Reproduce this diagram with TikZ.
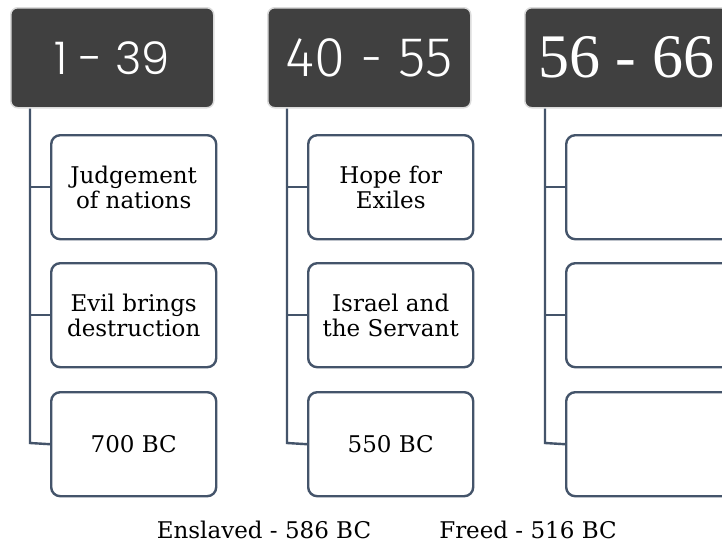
\documentclass[tikz,border=0pt]{standalone}
\usepackage{fontspec}
\setmainfont{DejaVu Serif}
\newfontfamily\hdA{Poppins Light}
\newfontfamily\hdB{Fira Sans Light}
\newfontfamily\hdC{Liberation Serif}
\definecolor{hdfill}{HTML}{404040}
\definecolor{hdline}{HTML}{DCDCDC}
\definecolor{lnc}{HTML}{44546A}
\begin{document}
\begin{tikzpicture}[x=1pt,y=-1pt,
  header/.style={draw=hdline, line width=1.5pt, fill=hdfill, rounded corners=7pt,
    minimum width=203pt, minimum height=100pt, text=white, inner sep=0pt, anchor=north west},
  item/.style={draw=lnc, line width=2.4pt, fill=white, rounded corners=9pt,
    minimum width=165pt, minimum height=104pt, align=center, inner sep=0pt,
    font=\fontsize{23}{25}\selectfont, anchor=north west},
  conn/.style={draw=lnc, line width=2.4pt},
  note/.style={font=\fontsize{23}{25}\selectfont, anchor=base}]
\useasboundingbox (0,0) rectangle (722,546);
\clip (0,0) rectangle (722,546);
\fill[white] (0,0) rectangle (722,546);

% headers
\node[header, font=\hdA\fontsize{45}{50}\selectfont] (h1) at (10,7) {1 - 39};
\node[header, font=\hdB\fontsize{56}{58}\selectfont] (h2) at (267,7) {40 - 55};
\node[header, font=\hdC\fontsize{62}{66}\selectfont] (h3) at (524,7) {56 - 66};

% column 1
\node[item] (c11) at (50,134) {Judgement\\of nations};
\node[item] (c12) at (50,262) {Evil brings\\destruction};
\node[item] (c13) at (50,391) {700 BC};
% column 2
\node[item] (c21) at (307,134) {Hope for\\Exiles};
\node[item] (c22) at (307,262) {Israel and\\the Servant};
\node[item] (c23) at (307,391) {550 BC};
% column 3
\node[item] (c31) at (565,134) {};
\node[item] (c32) at (565,262) {};
\node[item] (c33) at (565,391) {};

% connectors
\coordinate (t1) at (30,443);
\coordinate (t2) at (287,443);
\coordinate (t3) at (545,443);
\draw[conn] (h1.south -| t1) -- (t1) -- (c13.west);
\draw[conn] (c11.west) -- (c11.west -| t1);
\draw[conn] (c12.west) -- (c12.west -| t1);
\draw[conn] (h2.south -| t2) -- (t2) -- (c23.west);
\draw[conn] (c21.west) -- (c21.west -| t2);
\draw[conn] (c22.west) -- (c22.west -| t2);
\draw[conn] (h3.south -| t3) -- (t3) -- (c33.west);
\draw[conn] (c31.west) -- (c31.west -| t3);
\draw[conn] (c32.west) -- (c32.west -| t3);

% notes
\node[note] (n1) at (264,538) {Enslaved - 586 BC};
\node[note] (n2) at (528,538) {Freed - 516 BC};
\end{tikzpicture}
\end{document}
